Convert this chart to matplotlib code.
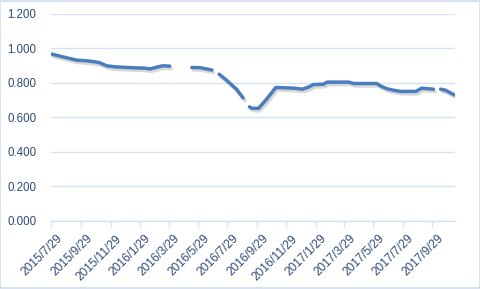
import matplotlib
matplotlib.use("Agg")
import matplotlib.pyplot as plt
import matplotlib.dates as mdates
import matplotlib.patheffects as pe
import matplotlib.transforms as mtransforms
import numpy as np
import pandas as pd

dates = [
    "2015-07-29", "2015-08-26", "2015-09-19", "2015-10-10", "2015-10-28",
    "2015-11-07", "2015-11-21", "2015-12-08", "2016-01-04", "2016-02-09",
    "2016-02-19", "2016-03-07", "2016-03-17", "2016-03-31",
    "2016-04-20",
    "2016-05-16", "2016-06-03", "2016-06-13", "2016-06-27",
    "2016-07-05",
    "2016-07-12", "2016-07-25", "2016-08-04", "2016-08-17", "2016-08-31",
    "2016-09-06",
    "2016-09-13", "2016-09-19", "2016-10-02", "2016-10-17", "2016-11-07",
    "2016-12-14", "2017-01-01", "2017-01-14", "2017-01-24", "2017-02-14",
    "2017-02-22", "2017-04-08", "2017-04-18", "2017-06-05", "2017-06-14",
    "2017-06-27", "2017-07-10", "2017-07-25", "2017-08-25", "2017-09-07",
    "2017-10-01",
    "2017-10-08",
    "2017-10-16", "2017-10-26", "2017-11-15",
]
values = [
    0.967, 0.948, 0.932, 0.928, 0.922,
    0.916, 0.899, 0.893, 0.889, 0.885,
    0.881, 0.893, 0.899, 0.897,
    np.nan,
    0.889, 0.888, 0.882, 0.874,
    np.nan,
    0.850, 0.821, 0.796, 0.763, 0.712,
    np.nan,
    0.660, 0.652, 0.652, 0.699, 0.773,
    0.769, 0.763, 0.775, 0.790, 0.792,
    0.804, 0.804, 0.796, 0.796, 0.780,
    0.765, 0.757, 0.750, 0.750, 0.769,
    0.763,
    np.nan,
    0.763, 0.757, 0.728,
]
y_ticks = [0.0, 0.2, 0.4, 0.6, 0.8, 1.0, 1.2]
x_ticks = ["2015-07-29", "2015-09-29", "2015-11-29", "2016-01-29", "2016-03-29",
           "2016-05-29", "2016-07-29", "2016-09-29", "2016-11-29", "2017-01-29",
           "2017-03-29", "2017-05-29", "2017-07-29", "2017-09-29"]
x_labels = ["2015/7/29", "2015/9/29", "2015/11/29", "2016/1/29", "2016/3/29",
            "2016/5/29", "2016/7/29", "2016/9/29", "2016/11/29", "2017/1/29",
            "2017/3/29", "2017/5/29", "2017/7/29", "2017/9/29"]

plt.rcParams['font.family'] = ['Liberation Sans', 'DejaVu Sans']

fig = plt.figure(figsize=(4.81, 2.89), dpi=100)
fig.patch.set_facecolor('white')
# outer border
fig.add_artist(plt.Rectangle((0.001, 0.002), 0.997, 0.995, transform=fig.transFigure,
                             fill=False, edgecolor='#cfdcec', linewidth=1.2))
ax = fig.add_axes([0.107, 0.237, 0.839, 0.7146])

d = pd.to_datetime(dates)
ax.plot(d, values, color='#4a7dbd', linewidth=2.5, solid_capstyle='round',
        solid_joinstyle='round',
        path_effects=[pe.SimpleLineShadow(offset=(1.2, -1.8), shadow_color='#808080', alpha=0.3),
                      pe.Normal()])

ax.set_ylim(0, 1.2)
ax.set_yticks(y_ticks)
ax.set_yticklabels([f"{v:.3f}" for v in y_ticks])
ax.set_xlim(pd.Timestamp("2015-07-29"), pd.Timestamp("2017-11-15"))
ax.set_xticks(pd.to_datetime(x_ticks))
ax.set_xticklabels(x_labels, rotation=45, ha='right', va='top', rotation_mode='anchor')

ax.grid(axis='y', color='#d6e2f0', linewidth=1.0)
ax.set_axisbelow(True)
for s in ['left', 'right', 'top']:
    ax.spines[s].set_visible(False)
ax.spines['bottom'].set_color('#d6e2f0')
ax.spines['bottom'].set_linewidth(1.0)
ax.tick_params(axis='y', length=0, pad=11, labelsize=8.3, labelcolor='#2c4a7a')
ax.tick_params(axis='x', length=4, width=1.0, color='#d6e2f0', pad=3, labelsize=8.6,
               labelcolor='#2c4a7a')

offset = mtransforms.ScaledTranslation(0.05, -0.025, fig.dpi_scale_trans)
for lab in ax.get_xticklabels():
    lab.set_transform(lab.get_transform() + offset)

fig.savefig("out.png", dpi=100)
